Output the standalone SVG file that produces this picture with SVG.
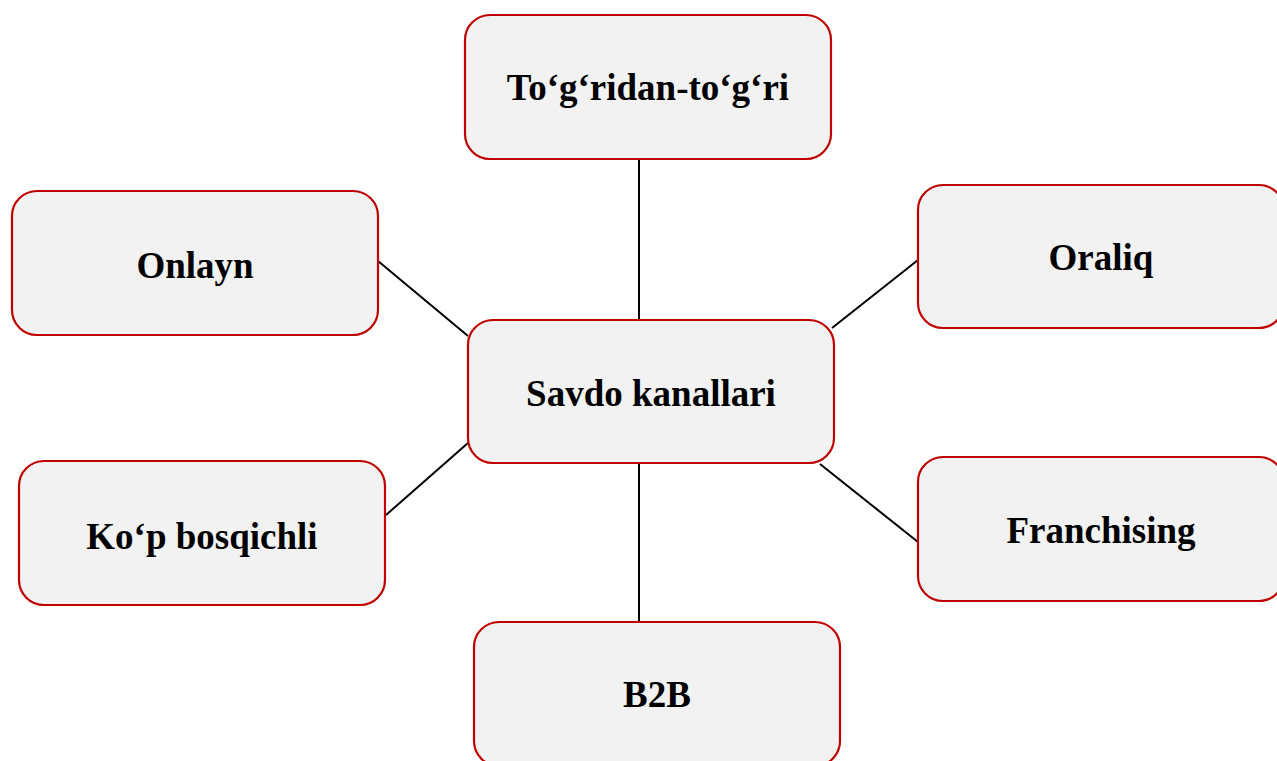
<svg xmlns="http://www.w3.org/2000/svg" width="1277" height="761" viewBox="0 0 1277 761">
<style>
.box{fill:#f2f2f2;stroke:#c00000;stroke-width:2.2}
.lbl{font-family:"Liberation Serif","Times New Roman",serif;font-weight:bold;font-size:37px;fill:#000;text-anchor:middle}
.conn line{stroke:#000;stroke-width:2}
</style>
<rect width="1277" height="761" fill="#fff"/>
<g class="conn">
<line x1="639" y1="159" x2="639" y2="320"/>
<line x1="639" y1="463" x2="639" y2="622"/>
<line x1="378" y1="261" x2="468" y2="336"/>
<line x1="832" y1="328" x2="918" y2="260"/>
<line x1="468" y1="443" x2="386" y2="515"/>
<line x1="820" y1="464" x2="918" y2="542"/>
</g>
<g id="top"><rect class="box" x="465" y="15" width="366" height="144" rx="25"/><text class="lbl" x="648" y="100">To‘g‘ridan-to‘g‘ri</text></g>
<g id="onlayn"><rect class="box" x="12" y="191" width="366" height="144" rx="25"/><text class="lbl" x="195" y="278">Onlayn</text></g>
<g id="oraliq"><rect class="box" x="918" y="185" width="366" height="143" rx="25"/><text class="lbl" x="1101" y="270">Oraliq</text></g>
<g id="center"><rect class="box" x="468" y="320" width="366" height="143" rx="25"/><text class="lbl" x="651" y="406">Savdo kanallari</text></g>
<g id="kop"><rect class="box" x="19" y="461" width="366" height="144" rx="25"/><text class="lbl" x="202" y="549">Ko‘p bosqichli</text></g>
<g id="franchising"><rect class="box" x="918" y="457" width="366" height="144" rx="25"/><text class="lbl" x="1101" y="543">Franchising</text></g>
<g id="b2b"><rect class="box" x="474" y="622" width="366" height="144" rx="25"/><text class="lbl" x="657" y="707">B2B</text></g>
</svg>
